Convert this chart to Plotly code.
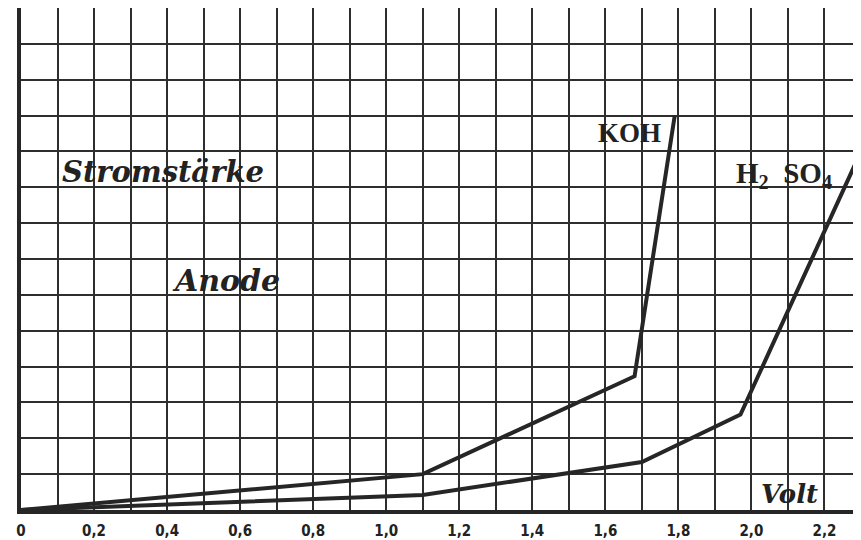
import plotly.graph_objects as go

# Data
volt_koh = [0, 1.1, 1.68, 1.79]
strom_koh = [0, 1.0, 3.73, 11.0]
volt_h2so4 = [0, 1.1, 1.7, 1.97, 2.3]
strom_h2so4 = [0, 0.42, 1.34, 2.66, 10.0]

x_major = [round(i * 0.2, 1) for i in range(0, 12)]
x_labels = ["0" if v == 0 else f"{v:.1f}".replace(".", ",") for v in x_major]
x_minor = [round(0.1 + i * 0.2, 1) for i in range(0, 12)]
y_grid = list(range(0, 15))

line_col = "#262626"
grid_col = "#2e2e2e"

fig = go.Figure()
fig.add_trace(go.Scatter(x=volt_koh, y=strom_koh, mode="lines", name="KOH",
                         line=dict(color=line_col, width=4), showlegend=False))
fig.add_trace(go.Scatter(x=volt_h2so4, y=strom_h2so4, mode="lines", name="H2SO4",
                         line=dict(color=line_col, width=4), showlegend=False))

serif = "DejaVu Serif"
fig.add_annotation(x=0.388, y=9.43, xref="x", yref="y", text="Stromstärke", showarrow=False,
                   font=dict(family=serif, size=29, color="#222", weight="bold", style="italic"))
fig.add_annotation(x=0.56, y=6.4, xref="x", yref="y", text="Anode", showarrow=False,
                   font=dict(family=serif, size=30, color="#222", weight="bold", style="italic"))
fig.add_annotation(x=1.666, y=10.52, xref="x", yref="y", text="KOH", showarrow=False,
                   font=dict(family="Liberation Serif", size=27, color="#222", weight="bold"))
fig.add_annotation(x=2.088, y=9.35, xref="x", yref="y", text="H<sub>2</sub>  SO<sub>4</sub>", showarrow=False,
                   font=dict(family="Liberation Serif", size=29, color="#222", weight="bold"))
fig.add_annotation(x=2.104, y=0.46, xref="x", yref="y", text="Volt", showarrow=False,
                   font=dict(family=serif, size=26, color="#222", weight="bold", style="italic"))

fig.update_layout(
    width=853, height=532,
    margin=dict(l=13, r=0, t=0, b=28),
    paper_bgcolor="white", plot_bgcolor="white",
    xaxis=dict(range=[0, 2.3], tickvals=x_major, ticktext=x_labels,
               showgrid=True, gridcolor=grid_col, gridwidth=2,
               minor=dict(tickvals=x_minor, showgrid=True, gridcolor=grid_col, gridwidth=2, ticks=""),
               zeroline=False, showline=True, linecolor=line_col, linewidth=4,
               ticks="", ticklabelstandoff=4,
               tickfont=dict(family="DejaVu Sans Condensed, DejaVu Sans", size=15, color="#222", weight="bold")),
    yaxis=dict(range=[0, 14], tickvals=y_grid, showticklabels=False,
               showgrid=True, gridcolor=grid_col, gridwidth=2,
               zeroline=False, showline=True, linecolor=line_col, linewidth=4, ticks=""),
)

fig.write_html("out.html")
